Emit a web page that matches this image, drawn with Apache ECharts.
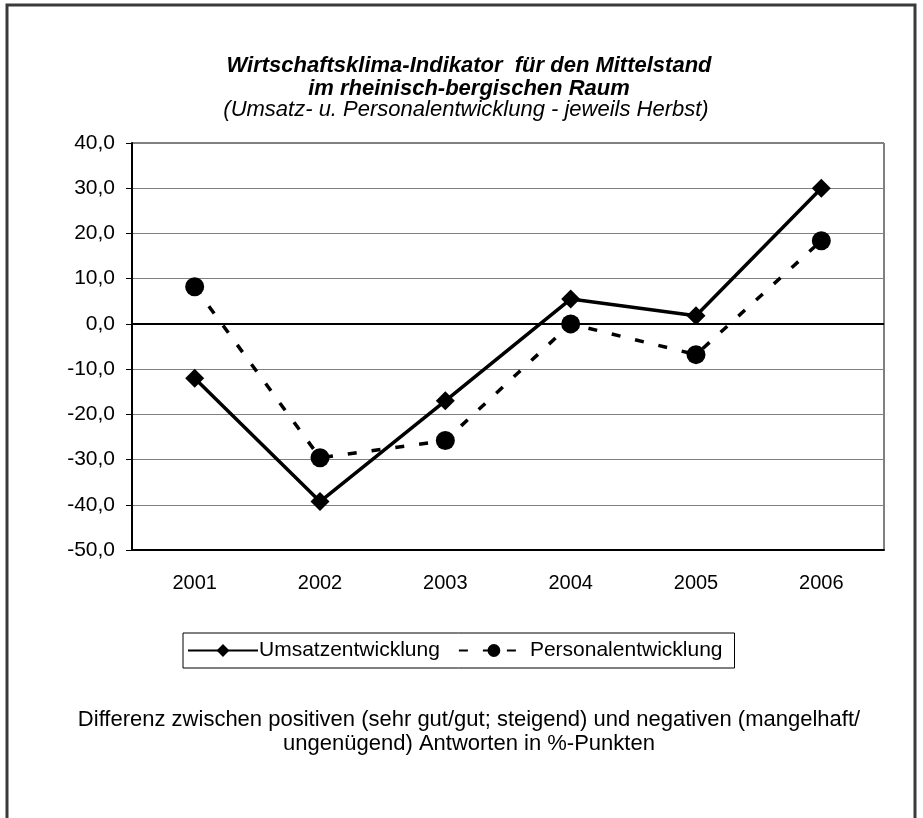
<!DOCTYPE html>
<html>
<head>
<meta charset="utf-8">
<script src="https://cdn.jsdelivr.net/npm/echarts@6/dist/echarts.min.js"></script>
<style>
  html, body { margin: 0; padding: 0; background: #fff; }
  #chart { width: 923px; height: 818px; }
</style>
</head>
<body>
<div id="chart"></div>
<script>
const years = ['2001', '2002', '2003', '2004', '2005', '2006']
const umsatz = [-12.0, -39.3, -17.0, 5.5, 1.8, 30.0]
const personal = [8.2, -29.6, -25.8, 0.0, -6.8, 18.4]
const seriesNames = ['Umsatzentwicklung', 'Personalentwicklung']

const font = 'Liberation Sans, Arial, sans-serif'
const chart = echarts.init(document.getElementById('chart'))

chart.setOption({
  animation: false,
  backgroundColor: '#fff',
  textStyle: { fontFamily: font, color: '#000' },
  title: [{
    text: 'Wirtschaftsklima-Indikator  für den Mittelstand\nim rheinisch-bergischen Raum',
    left: 464,
    textAlign: 'center',
    top: 49,
    textStyle: { fontFamily: font, fontSize: 22, fontWeight: 'bold', fontStyle: 'italic', lineHeight: 23, color: '#000' }
  }, {
    text: '(Umsatz- u. Personalentwicklung - jeweils Herbst)',
    left: 461,
    textAlign: 'center',
    top: 94,
    textStyle: { fontFamily: font, fontSize: 22, fontWeight: 'normal', fontStyle: 'italic', color: '#000' }
  }, {
    text: 'Differenz zwischen positiven (sehr gut/gut; steigend) und negativen (mangelhaft/\nungenügend) Antworten in %-Punkten',
    left: 464,
    textAlign: 'center',
    top: 703,
    textStyle: { fontFamily: font, fontSize: 22, fontWeight: 'normal', lineHeight: 24, color: '#000' }
  }],
  graphic: [{
    type: 'rect',
    shape: { x: 7, y: 5, width: 908, height: 830 },
    style: { fill: 'none', stroke: '#3a3a3a', lineWidth: 3 },
    silent: true
  }],
  legend: {
    data: seriesNames,
    left: 183,
    top: 633,
    padding: [7, 12, 7, 4],
    borderColor: '#000',
    borderWidth: 1,
    itemWidth: 70,
    itemHeight: 16,
    itemGap: 18,
    textStyle: { fontFamily: font, fontSize: 21, color: '#000', padding: [0, 0, 0, -4] }
  },
  grid: {
    left: 132,
    right: 39,
    top: 143,
    bottom: 268,
    show: true,
    borderColor: '#000',
    borderWidth: 1
  },
  xAxis: {
    type: 'category',
    data: years,
    boundaryGap: true,
    axisLine: { onZero: false, lineStyle: { color: '#000', width: 2 } },
    axisTick: { show: false },
    axisLabel: { fontFamily: font, fontSize: 20, color: '#000', margin: 23 }
  },
  yAxis: {
    type: 'value',
    min: -50,
    max: 40,
    interval: 10,
    axisLine: { show: true, lineStyle: { color: '#000', width: 2 } },
    axisTick: { show: true, length: 6, lineStyle: { color: '#000', width: 1 } },
    splitLine: { lineStyle: { color: '#808080', width: 1 } },
    axisLabel: {
      fontFamily: font,
      fontSize: 21,
      color: '#000',
      margin: 17,
      formatter: v => v.toFixed(1).replace('.', ',')
    }
  },
  series: [{
    name: seriesNames[0],
    type: 'line',
    data: umsatz,
    symbol: 'diamond',
    symbolSize: 19,
    itemStyle: { color: '#000' },
    lineStyle: { color: '#000', width: 3.5 },
    z: 3,
    markLine: {
      silent: true,
      symbol: 'none',
      label: { show: false },
      lineStyle: { color: '#000', width: 2, type: 'solid' },
      data: [{ yAxis: 0 }]
    }
  }, {
    name: seriesNames[1],
    type: 'line',
    data: personal,
    symbol: 'circle',
    symbolSize: 19,
    itemStyle: { color: '#000' },
    lineStyle: { color: '#000', width: 3.5, type: [9, 15] },
    z: 2
  }]
})
</script>
</body>
</html>
